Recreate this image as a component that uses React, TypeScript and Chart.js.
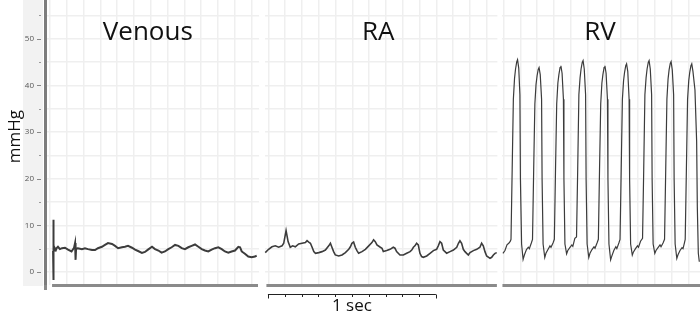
import React, { useEffect, useRef } from 'react';
import { Chart, registerables } from 'chart.js';

Chart.register(...registerables);

// time (s), pressure (mmHg)
const venous: [number, number][] = [
  [0.048, 4.5], [0.049, 11.2], [0.051, -1.7], [0.052, 6.0], [0.054, 4.6], [0.057, 5.2],
  [0.065, 4.7], [0.071, 5.2], [0.077, 5.4], [0.089, 4.9], [0.101, 5.1], [0.119, 5.2], [0.137, 4.8], [0.158, 4.4],
  [0.173, 5.2], [0.179, 6.2], [0.182, 2.6], [0.185, 5.0], [0.196, 5.1],
  [0.220, 4.9], [0.238, 5.1], [0.256, 4.9], [0.280, 4.7], [0.298, 4.7], [0.315, 5.1], [0.339, 5.4], [0.357, 5.8], [0.375, 6.2], [0.399, 6.0],
  [0.417, 5.6], [0.435, 5.1], [0.458, 5.3], [0.476, 5.4], [0.494, 5.6], [0.518, 5.2], [0.536, 4.8], [0.554, 4.5], [0.577, 4.1], [0.595, 4.3],
  [0.613, 4.8], [0.637, 5.4], [0.655, 4.9], [0.675, 4.6], [0.694, 4.15], [0.714, 4.4], [0.734, 4.9], [0.754, 5.3], [0.774, 5.8], [0.794, 5.6],
  [0.814, 5.1], [0.833, 4.9], [0.853, 5.3], [0.873, 5.6], [0.893, 5.9], [0.913, 5.4], [0.933, 4.9], [0.952, 4.6], [0.972, 4.4], [0.992, 4.8],
  [1.012, 5.1], [1.032, 5.3], [1.052, 4.9], [1.071, 4.4], [1.091, 4.15], [1.111, 4.4], [1.131, 4.6], [1.151, 5.4], [1.161, 5.3], [1.171, 4.4],
  [1.190, 3.9], [1.210, 3.3], [1.230, 3.15], [1.250, 3.3], [1.260, 3.5],
];

const ra: [number, number][] = [
  [1.311, 4.15], [1.331, 4.86], [1.351, 5.4], [1.371, 5.6], [1.391, 5.3], [1.411, 5.6], [1.421, 6.15], [1.435, 8.87], [1.447, 6.5], [1.460, 5.3],
  [1.474, 5.6], [1.490, 5.4], [1.510, 6.0], [1.530, 6.15], [1.550, 6.3], [1.560, 6.7], [1.570, 6.4], [1.580, 6.15], [1.590, 5.3], [1.600, 4.36],
  [1.610, 4.0], [1.630, 4.15], [1.649, 4.36], [1.669, 4.7], [1.689, 5.6], [1.699, 6.15], [1.708, 5.3], [1.718, 4.36], [1.728, 3.65], [1.748, 3.43],
  [1.768, 3.65], [1.788, 4.15], [1.808, 4.86], [1.818, 5.4], [1.827, 6.15], [1.837, 6.4], [1.847, 5.3], [1.857, 4.58], [1.867, 4.0], [1.887, 4.36],
  [1.907, 4.86], [1.927, 5.6], [1.946, 6.3], [1.956, 6.9], [1.966, 6.5], [1.976, 5.8], [1.996, 5.3], [2.006, 5.1],
  [2.014, 4.36], [2.034, 4.58], [2.054, 4.86], [2.073, 5.3], [2.083, 5.1], [2.093, 4.36], [2.113, 3.65], [2.133, 3.65], [2.153, 4.0], [2.173, 4.36],
  [2.183, 4.7], [2.193, 5.3], [2.202, 5.6], [2.212, 6.15], [2.222, 5.8], [2.232, 4.0], [2.242, 3.3], [2.252, 3.15], [2.272, 3.43], [2.292, 4.0],
  [2.312, 4.58], [2.331, 4.86], [2.341, 5.6], [2.351, 6.5], [2.361, 6.15], [2.371, 4.7], [2.381, 4.36], [2.391, 4.0], [2.411, 4.36], [2.431, 4.7],
  [2.451, 5.3], [2.461, 6.15], [2.470, 6.7], [2.480, 6.15], [2.490, 4.86], [2.500, 4.36], [2.510, 4.0], [2.520, 3.65], [2.530, 4.15], [2.550, 4.58],
  [2.570, 4.86], [2.589, 5.3], [2.599, 6.15], [2.609, 5.6], [2.619, 4.36], [2.629, 3.43], [2.649, 2.93], [2.659, 3.15], [2.669, 3.65], [2.679, 4.0],
  [2.689, 4.15],
];

const rv: [number, number][] = [
  [2.726, 4.0], [2.738, 4.6], [2.750, 5.8], [2.762, 6.2], [2.770, 6.6],
  [2.774, 7], [2.781, 22], [2.788, 37], [2.795, 41.5], [2.801, 43.5], [2.808, 45.0], [2.813, 45.5], [2.820, 43.7], [2.827, 38], [2.830, 20], [2.837, 6], [2.846, 2.7], [2.854, 3.7], [2.866, 4.8], [2.877, 5.3], [2.883, 5.0], [2.895, 6.2],
  [2.902, 7], [2.909, 22], [2.916, 36], [2.923, 40.2], [2.929, 42], [2.936, 43.4], [2.941, 43.8], [2.948, 42.3], [2.956, 37], [2.959, 20], [2.965, 6], [2.975, 3.1], [2.982, 4.0], [2.994, 4.8], [3.006, 5.6], [3.012, 5.3], [3.024, 6.2],
  [3.032, 7], [3.039, 22], [3.046, 36], [3.053, 40.5], [3.059, 42.3], [3.066, 43.8], [3.071, 44.2], [3.078, 42.6], [3.086, 37], [3.089, 20], [3.095, 6], [3.105, 3.9], [3.112, 4.6], [3.124, 5.2], [3.136, 5.8], [3.142, 5.5], [3.154, 7.2],
  [3.164, 7.5], [3.171, 22], [3.178, 38], [3.185, 41.6], [3.191, 43.5], [3.198, 44.9], [3.203, 45.3], [3.210, 43.5], [3.218, 38], [3.221, 20], [3.227, 6], [3.237, 3.1], [3.244, 4.0], [3.256, 4.8], [3.268, 5.4], [3.274, 5.1], [3.286, 6.2],
  [3.294, 7], [3.301, 22], [3.308, 36], [3.315, 40.5], [3.321, 42.3], [3.328, 43.8], [3.333, 44.2], [3.340, 42.6], [3.348, 37], [3.351, 20], [3.357, 6], [3.367, 2.6], [3.374, 3.4], [3.386, 4.6], [3.398, 5.4], [3.404, 5.0], [3.416, 6.2],
  [3.423, 7], [3.430, 22], [3.437, 37], [3.444, 41.0], [3.450, 42.8], [3.457, 44.2], [3.462, 44.6], [3.469, 43], [3.477, 37], [3.480, 20], [3.486, 6], [3.496, 3.6], [3.503, 4.3], [3.515, 5.0], [3.527, 5.6], [3.533, 5.3], [3.545, 6.6],
  [3.557, 7.2], [3.564, 22], [3.571, 38], [3.578, 41.6], [3.584, 43.5], [3.591, 44.9], [3.596, 45.3], [3.603, 43.5], [3.611, 38], [3.614, 20], [3.620, 6], [3.630, 4.0], [3.637, 4.6], [3.649, 5.2], [3.661, 5.8], [3.667, 5.4], [3.679, 6.2],
  [3.688, 7], [3.695, 22], [3.702, 37], [3.709, 41.4], [3.715, 43.3], [3.722, 44.7], [3.727, 45.1], [3.734, 43.3], [3.742, 38], [3.745, 20], [3.751, 6], [3.761, 2.9], [3.768, 3.7], [3.780, 4.6], [3.792, 5.2], [3.798, 5.0], [3.806, 6.2],
  [3.811, 7], [3.818, 22], [3.825, 37], [3.832, 41.0], [3.838, 42.8], [3.845, 44.2], [3.850, 44.6], [3.857, 43], [3.869, 39], [3.879, 28], [3.883, 14], [3.889, 4.0], [3.895, 2.2],
];

const panelNames = ['Venous', 'RA', 'RV'];
const panelCenters = [0.612, 1.984, 3.304];
const panelStarts = [0.042, 1.318, 2.723];
const panelEnds = [1.268, 2.69, 3.899];
const gapStarts = [1.274, 2.693];
const gapEnds = [1.31, 2.72];
const yMajorTicks = [0, 10, 20, 30, 40, 50];
const yMinorTicks = [5, 15, 25, 35, 45, 55];
const scaleBarStart = 1.327;
const scaleBarEnd = 2.327;
const scaleBarLabel = '1 sec';
const yLabel = 'mmHg';
const xMin = 0;
const xMax = 3.899;
const yMin = -2.79;
const yMax = 58.29;

const toPts = (a: [number, number][]) => a.map(([x, y]) => ({ x, y }));

const decor = {
  id: 'decor',
  beforeDraw(chart: any) {
    const { ctx, chartArea } = chart;
    ctx.save();
    ctx.fillStyle = '#f2f2f2';
    ctx.fillRect(chartArea.left - 22, chartArea.top, 20, chartArea.bottom - chartArea.top + 1);
    ctx.restore();
  },
  beforeDatasetsDraw(chart: any) {
    const { ctx, chartArea, scales } = chart;
    ctx.save();
    ctx.fillStyle = '#ffffff';
    gapStarts.forEach((g, i) => {
      const a = scales.x.getPixelForValue(g);
      const b = scales.x.getPixelForValue(gapEnds[i]);
      ctx.fillRect(a, chartArea.top, b - a, chartArea.bottom - chartArea.top);
    });
    ctx.restore();
  },
  afterDraw(chart: any) {
    const { ctx, chartArea, scales } = chart;
    const x = scales.x;
    const y = scales.y;
    ctx.save();
    // bottom axis segments
    ctx.strokeStyle = '#8a8a8a';
    ctx.lineWidth = 3;
    panelStarts.forEach((s, i) => {
      ctx.beginPath();
      ctx.moveTo(x.getPixelForValue(s), chartArea.bottom + 0.5);
      ctx.lineTo(x.getPixelForValue(panelEnds[i]), chartArea.bottom + 0.5);
      ctx.stroke();
    });
    // y axis extension below
    ctx.beginPath();
    ctx.moveTo(chartArea.left + 0.5, chartArea.bottom);
    ctx.lineTo(chartArea.left + 0.5, chartArea.bottom + 5);
    ctx.stroke();
    // y tick marks
    ctx.strokeStyle = '#888';
    ctx.lineWidth = 1;
    yMajorTicks.forEach((v) => {
      const p = Math.round(y.getPixelForValue(v)) + 0.5;
      ctx.beginPath();
      ctx.moveTo(chartArea.left - 8, p);
      ctx.lineTo(chartArea.left - 4, p);
      ctx.stroke();
    });
    ctx.fillStyle = '#999';
    yMinorTicks.forEach((v) => {
      const p = Math.round(y.getPixelForValue(v));
      ctx.fillRect(chartArea.left - 6, p, 2, 1);
    });
    // titles
    ctx.fillStyle = '#111';
    ctx.font = '26px "Open Sans", sans-serif';
    ctx.textAlign = 'center';
    ctx.textBaseline = 'alphabetic';
    panelNames.forEach((n, i) => {
      ctx.fillText(n, x.getPixelForValue(panelCenters[i]), chartArea.top + 40);
    });
    // scale bar
    const sb0 = x.getPixelForValue(scaleBarStart);
    const sb1 = x.getPixelForValue(scaleBarEnd);
    const sy = chartArea.bottom + 9.5;
    ctx.strokeStyle = '#222';
    ctx.lineWidth = 1;
    ctx.beginPath();
    ctx.moveTo(sb0, sy);
    ctx.lineTo(sb1, sy);
    ctx.stroke();
    for (let k = 0; k <= 10; k++) {
      const px = Math.round(x.getPixelForValue(scaleBarStart + (scaleBarEnd - scaleBarStart) * k / 10)) + 0.5;
      const len = k === 0 || k === 10 ? 4 : 2.5;
      ctx.beginPath();
      ctx.moveTo(px, sy);
      ctx.lineTo(px, sy + len);
      ctx.stroke();
    }
    ctx.font = '17px "Open Sans", sans-serif';
    ctx.fillText(scaleBarLabel, (sb0 + sb1) / 2, chartArea.bottom + 26);
    // y label
    ctx.translate(chartArea.left - 25, y.getPixelForValue(29));
    ctx.rotate(-Math.PI / 2);
    ctx.font = '17px "Open Sans", sans-serif';
    ctx.fillText(yLabel, 0, 0);
    ctx.restore();
  },
};

export default function App() {
  const ref = useRef<HTMLCanvasElement | null>(null);
  useEffect(() => {
    document.body.style.margin = '0';
    const lineColor = '#3c3c3c';
    const chart = new Chart(ref.current as HTMLCanvasElement, {
      type: 'line',
      data: {
        datasets: [
          { label: 'Venous', data: toPts(venous), borderColor: lineColor, borderWidth: 2, pointRadius: 0, tension: 0 },
          { label: 'RA', data: toPts(ra), borderColor: lineColor, borderWidth: 1.6, pointRadius: 0, tension: 0 },
          { label: 'RV', data: toPts(rv), borderColor: lineColor, borderWidth: 1.2, pointRadius: 0, tension: 0 },
        ],
      },
      options: {
        animation: false,
        responsive: false,
        devicePixelRatio: 1,
        layout: { padding: { left: 0, right: 0, top: 0, bottom: 32 } },
        plugins: { legend: { display: false }, tooltip: { enabled: false } },
        scales: {
          x: {
            type: 'linear',
            min: xMin,
            max: xMax,
            afterBuildTicks: (scale: any) => {
              const t = [];
              for (let v = 0.03; v < xMax; v += 0.1) t.push({ value: v });
              scale.ticks = t;
            },
            ticks: { display: false },
            border: { display: false },
            grid: { color: '#efefef', lineWidth: 1.5, drawTicks: false },
          },
          y: {
            type: 'linear',
            min: yMin,
            max: yMax,
            afterBuildTicks: (scale: any) => {
              scale.ticks = [...yMajorTicks, ...yMinorTicks].sort((a, b) => a - b).map((v) => ({ value: v }));
            },
            afterFit: (scale: any) => {
              scale.width = 45;
              scale.paddingTop = 0;
              scale.paddingBottom = 0;
            },
            ticks: {
              autoSkip: false,
              padding: 11,
              color: '#555',
              font: { size: 8, family: '"Open Sans", sans-serif' },
              callback: (v: any) => (yMajorTicks.includes(Number(v)) ? String(v) : ''),
            },
            border: { display: true, color: '#7d7d7d', width: 3 },
            grid: { color: '#efefef', lineWidth: 1.5, drawTicks: false },
          },
        },
      },
      plugins: [decor],
    });
    return () => chart.destroy();
  }, []);
  return (
    <div style={{ width: 700, height: 317 }}>
      <canvas ref={ref} width={700} height={317} style={{ display: 'block' }} />
    </div>
  );
}
